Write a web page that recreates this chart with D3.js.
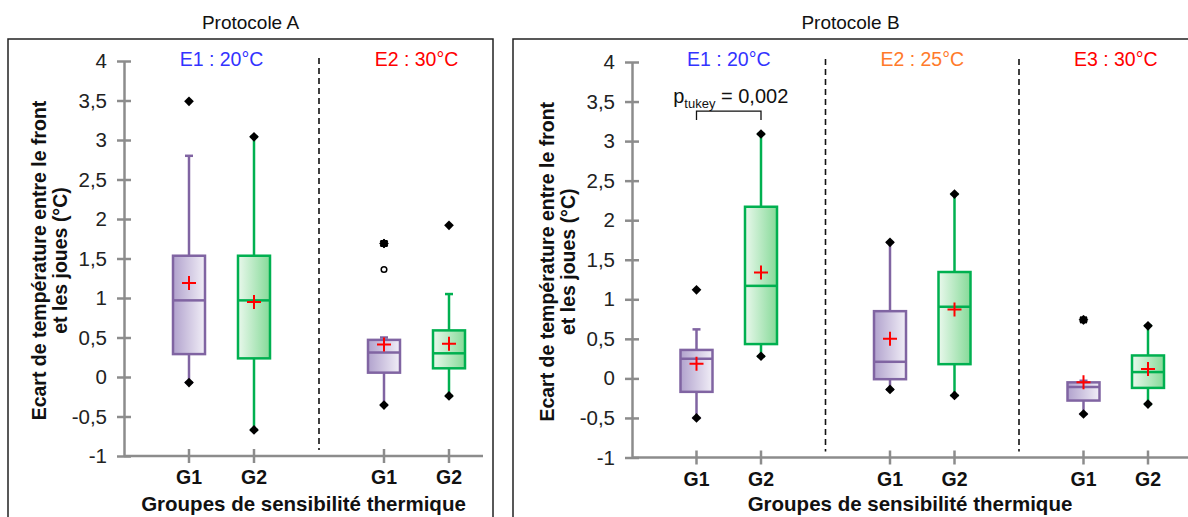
<!DOCTYPE html>
<html><head><meta charset="utf-8">
<script src="https://cdn.jsdelivr.net/npm/d3@7"></script>
<style>body{margin:0;background:#fff}svg{display:block;font-family:"Liberation Sans",Arial,sans-serif}</style>
</head><body><svg id="c" width="1188" height="517"></svg>
<script>
// ---------- DATA ----------
const panelTitles = ["Protocole A", "Protocole B"];
const conditionsA = ["E1 : 20°C", "E2 : 30°C"];
const conditionsB = ["E1 : 20°C", "E2 : 25°C", "E3 : 30°C"];
const conditionColorsA = ["#3333ff", "#ff0000"];
const conditionColorsB = ["#3333ff", "#ff7a2a", "#ff0000"];
const groups = ["G1", "G2"];
const yTicks = [-1, -0.5, 0, 0.5, 1, 1.5, 2, 2.5, 3, 3.5, 4];
const yTickLabels = ["-1", "-0,5", "0", "0,5", "1", "1,5", "2", "2,5", "3", "3,5", "4"];
const yTitle = ["Ecart de température entre le front", "et les joues (°C)"];
const xTitle = "Groupes de sensibilité thermique";

// one entry per box
const boxPanel     = ["A", "A", "A", "A", "B", "B", "B", "B", "B", "B"];
const boxCondition = [0, 0, 1, 1, 0, 0, 1, 1, 2, 2];
const boxGroup     = ["G1", "G2", "G1", "G2", "G1", "G2", "G1", "G2", "G1", "G2"];
const whiskerLow   = [-0.07, -0.67, -0.355, -0.24, -0.50, 0.28, -0.14, -0.215, -0.45, -0.325];
const q1Values     = [0.29, 0.236, 0.055, 0.11, -0.17, 0.434, -0.01, 0.18, -0.28, -0.12];
const medianValues = [0.97, 0.97, 0.31, 0.30, 0.25, 1.17, 0.21, 0.906, -0.11, 0.08];
const q3Values     = [1.535, 1.535, 0.47, 0.59, 0.36, 2.17, 0.85, 1.345, -0.05, 0.29];
const whiskerHigh  = [2.80, 3.04, 0.50, 1.05, 0.62, 3.09, 1.72, 2.33, -0.03, 0.665];
const meanValues   = [1.19, 0.95, 0.41, 0.42, 0.185, 1.34, 0.50, 0.87, -0.05, 0.12];
const minValues    = [-0.07, -0.67, -0.355, -0.24, -0.50, 0.28, -0.14, -0.215, -0.45, -0.325];
const maxValues    = [3.49, 3.04, 1.69, 1.92, 1.12, 3.09, 1.72, 2.33, 0.74, 0.665];
const mildOutliers   = [[], [], [1.36], [], [], [], [], [], [], []];
const severeOutliers = [[], [], [1.69], [], [], [], [], [], [0.74], []];

// significance annotation (Protocole B, E1)
const sigCondition = 0;
const sigLevel = 3.38;
const sigText = "0,002";

// ---------- LAYOUT ----------
const svg = d3.select("#c");
const groupColors = {G1: {stroke: "#8064a2", c0: "#b1a2cd", c1: "#f1eef7"},
                     G2: {stroke: "#00b050", c0: "#e9f8ec", c1: "#86da98"}};
const defs = svg.append("defs");
Object.entries(groupColors).forEach(([g, c]) => {
  const lg = defs.append("linearGradient").attr("id", "grad" + g).attr("x1", "0").attr("x2", "1").attr("y1", "0").attr("y2", "0");
  lg.append("stop").attr("offset", "0").attr("stop-color", c.c0);
  lg.append("stop").attr("offset", "1").attr("stop-color", c.c1);
});

const panels = [
  {key: "A", title: panelTitles[0], conds: conditionsA, colors: conditionColorsA,
   frame: [8, 39, 493, 530], axisX: 124, axisEnd: 483, band: 195, yRange: [456, 61]},
  {key: "B", title: panelTitles[1], conds: conditionsB, colors: conditionColorsB,
   frame: [513, 39, 1195, 530], axisX: 632, axisEnd: 1188, band: 193.5, yRange: [457.5, 62]}
];
const axisGray = "#8c8c8c";

panels.forEach(p => {
  const g = svg.append("g");
  // frame
  g.append("rect").attr("x", p.frame[0]).attr("y", p.frame[1])
    .attr("width", p.frame[2] - p.frame[0]).attr("height", p.frame[3] - p.frame[1])
    .attr("fill", "none").attr("stroke", "#222").attr("stroke-width", 1.5);
  g.append("text").attr("x", (p.frame[0] + Math.min(p.frame[2], 1188)) / 2).attr("y", 29)
    .attr("text-anchor", "middle").attr("font-size", 19).attr("fill", "#111").text(p.title);

  const y = d3.scaleLinear().domain([-1, 4]).range(p.yRange);
  const xc = d3.scaleBand().domain(p.conds).range([p.axisX, p.axisX + p.band * p.conds.length]);
  const xg = d3.scalePoint().domain(groups).range([0, p.band]).padding(1);
  const cx = (ci, grp) => xc(p.conds[ci]) + xg(grp);

  // y axis
  const yAx = g.append("g").attr("transform", `translate(${p.axisX},0)`)
    .call(d3.axisLeft(y).tickValues(yTicks).tickFormat((d, i) => yTickLabels[i]).tickSize(7).tickSizeOuter(0));
  yAx.select(".domain").attr("stroke", axisGray).attr("stroke-width", 2.5);
  yAx.selectAll(".tick line").attr("stroke", axisGray).attr("stroke-width", 2.5).attr("x2", 7).attr("x1", -7);
  yAx.selectAll(".tick text").attr("x", -17).attr("font-size", 20.5).attr("fill", "#222")
    .attr("font-family", "Liberation Sans, Arial, sans-serif");

  // x axis
  const xAx = g.append("g").attr("transform", `translate(0,${p.yRange[0]})`);
  xAx.append("line").attr("x1", p.axisX).attr("x2", p.axisEnd).attr("stroke", axisGray).attr("stroke-width", 2.5);
  p.conds.forEach((c, ci) => groups.forEach(grp => {
    const x = cx(ci, grp);
    xAx.append("line").attr("x1", x).attr("x2", x).attr("y1", -7).attr("y2", 7).attr("stroke", axisGray).attr("stroke-width", 2.5);
    xAx.append("text").attr("x", x).attr("y", 28).attr("text-anchor", "middle").attr("font-size", 19.5)
      .attr("font-weight", "bold").attr("fill", "#111").text(grp);
  }));
  g.append("text").attr("x", (p.axisX + p.axisEnd) / 2).attr("y", 511).attr("text-anchor", "middle")
    .attr("font-size", 20.5).attr("font-weight", "bold").attr("fill", "#111").text(xTitle);

  // y title
  const yt = g.append("text").attr("transform", `translate(${p.axisX - 78},${(p.yRange[0] + p.yRange[1]) / 2 + 2}) rotate(-90)`)
    .attr("text-anchor", "middle").attr("font-size", 19.5).attr("font-weight", "bold").attr("fill", "#111");
  yt.append("tspan").attr("x", 0).attr("dy", 0).text(yTitle[0]);
  yt.append("tspan").attr("x", 0).attr("dy", 21).text(yTitle[1]);

  // separators + condition headers
  p.conds.forEach((c, ci) => {
    if (ci > 0) {
      const sx = xc(c);
      g.append("line").attr("x1", sx).attr("x2", sx).attr("y1", p.yRange[1] - 3).attr("y2", p.yRange[0] - 6)
        .attr("stroke", "#111").attr("stroke-width", 1.6).attr("stroke-dasharray", "6,4");
    }
    g.append("text").attr("x", xc(c) + xc.bandwidth() / 2).attr("y", 66).attr("text-anchor", "middle")
      .attr("font-size", 19.5).attr("fill", p.colors[ci]).text(c);
  });

  // boxes
  boxPanel.forEach((bp, i) => {
    if (bp !== p.key) return;
    const grp = boxGroup[i];
    const col = groupColors[grp];
    const x = cx(boxCondition[i], grp);
    const w = 32;
    const b = g.append("g");
    // whiskers
    b.append("line").attr("x1", x).attr("x2", x).attr("y1", y(whiskerHigh[i])).attr("y2", y(q3Values[i]))
      .attr("stroke", col.stroke).attr("stroke-width", 2.5);
    b.append("line").attr("x1", x).attr("x2", x).attr("y1", y(q1Values[i])).attr("y2", y(whiskerLow[i]))
      .attr("stroke", col.stroke).attr("stroke-width", 2.5);
    [whiskerHigh[i], whiskerLow[i]].forEach(v => {
      b.append("line").attr("x1", x - 4).attr("x2", x + 4).attr("y1", y(v)).attr("y2", y(v))
        .attr("stroke", col.stroke).attr("stroke-width", 2.5);
    });
    // box
    b.append("rect").attr("x", x - w / 2).attr("y", y(q3Values[i])).attr("width", w)
      .attr("height", y(q1Values[i]) - y(q3Values[i])).attr("fill", `url(#grad${grp})`)
      .attr("stroke", col.stroke).attr("stroke-width", 2.5);
    b.append("line").attr("x1", x - w / 2).attr("x2", x + w / 2).attr("y1", y(medianValues[i])).attr("y2", y(medianValues[i]))
      .attr("stroke", col.stroke).attr("stroke-width", 2.5);
    // min / max diamonds
    [minValues[i], maxValues[i]].forEach(v => {
      b.append("path").attr("d", d3.symbol(d3.symbolDiamond2, 60)())
        .attr("transform", `translate(${x},${y(v)})`).attr("fill", "#000");
    });
    severeOutliers[i].forEach(v => {
      b.append("rect").attr("x", x - 3.5).attr("y", y(v) - 3.5).attr("width", 7).attr("height", 7).attr("fill", "#000");
      b.append("path").attr("d", d3.symbol(d3.symbolAsterisk, 55)())
        .attr("transform", `translate(${x},${y(v)})`).attr("stroke", "#000").attr("stroke-width", 1.6);
    });
    mildOutliers[i].forEach(v => {
      b.append("circle").attr("cx", x).attr("cy", y(v)).attr("r", 2.8)
        .attr("fill", "#fff").attr("stroke", "#000").attr("stroke-width", 1.5);
    });
    // mean
    const my = y(meanValues[i]);
    b.append("path").attr("d", `M${x - 7},${my}H${x + 7}M${x},${my - 7}V${my + 7}`)
      .attr("stroke", "#ff0000").attr("stroke-width", 2);
  });

  // significance bracket
  if (p.key === "B") {
    const x1 = cx(sigCondition, "G1"), x2 = cx(sigCondition, "G2");
    const yy = y(sigLevel);
    g.append("path").attr("d", `M${x1},${yy + 9}V${yy}H${x2}V${yy + 9}`)
      .attr("fill", "none").attr("stroke", "#111").attr("stroke-width", 1.3);
    const t = g.append("text").attr("x", (x1 + x2) / 2 + 2).attr("y", yy - 8).attr("text-anchor", "middle")
      .attr("font-size", 20).attr("fill", "#111");
    t.append("tspan").text("p");
    t.append("tspan").attr("font-size", 13).attr("dy", 5).text("tukey");
    t.append("tspan").attr("dy", -5).text(" = " + sigText);
  }
});
</script></body></html>
